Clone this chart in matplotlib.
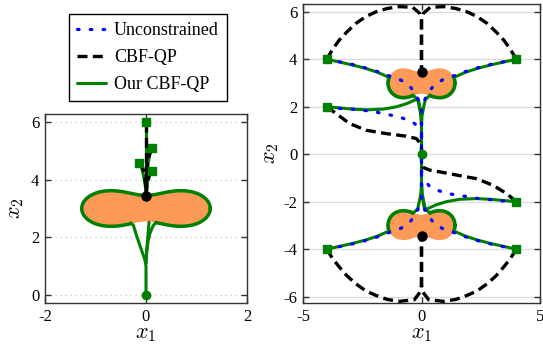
import numpy as np
import matplotlib
matplotlib.use('Agg')
import matplotlib.pyplot as plt
from matplotlib.lines import Line2D

plt.rcParams['font.family'] = ['Liberation Serif', 'DejaVu Serif']
plt.rcParams['mathtext.fontset'] = 'cm'
plt.rcParams['axes.unicode_minus'] = False

GREEN = '#008000'
ORANGE = '#FD9A58'
BLUE = '#0000FF'
BLACK = '#000000'

# ---------------- data ----------------
legend_labels = ['Unconstrained', 'CBF-QP', 'Our CBF-QP']

left_xticks = [-2, 0, 2]
left_xticklabels = ['-2', '0', '2']
left_yticks = [0, 2, 4, 6]
left_yticklabels = ['0', '2', '4', '6']
right_xticks = [-5, 0, 5]
right_xticklabels = ['-5', '0', '5']
right_yticks = [-6, -4, -2, 0, 2, 4, 6]
right_yticklabels = ['-6', '-4', '-2', '0', '2', '4', '6']

# obstacle (Cassini-oval peanut): centre, x scale, y scale, k^2/c^2
left_obst = dict(cx=0.0, cy=3.0, sx=0.86, sy=1.04, q=1.189)
right_obst_top = dict(cx=0.0, cy=3.0, sx=0.955, sy=1.04, q=1.189)
right_obst_bot = dict(cx=0.0, cy=-3.0, sx=0.955, sy=1.04, q=1.189)

# ---- left panel ----
left_start_x = [0.0, 0.125, -0.13, 0.125]
left_start_y = [6.0, 5.09, 4.57, 4.29]
left_goal = (0.0, 0.0)
left_deadlock = (0.0, 3.45)

left_cbf = [
    ([0.0, 0.0, 0.0], [6.0, 4.8, 3.45]),
    ([0.125, 0.06, 0.025, 0.005, 0.0], [5.09, 4.85, 4.5, 4.0, 3.45]),
    ([-0.13, -0.07, -0.03, -0.005, 0.0], [4.57, 4.45, 4.2, 3.8, 3.45]),
    ([0.125, 0.06, 0.02, 0.0], [4.29, 4.15, 3.85, 3.45]),
]
left_our_top = [
    ([0.0, 0.0, 0.0], [6.0, 4.8, 3.5]),
    ([0.125, 0.08, 0.04, 0.015, 0.0], [5.09, 4.9, 4.55, 4.0, 3.5]),
    ([-0.13, -0.09, -0.05, -0.015, 0.0], [4.57, 4.42, 4.15, 3.8, 3.5]),
    ([0.125, 0.08, 0.035, 0.01, 0.0], [4.29, 4.18, 3.95, 3.7, 3.5]),
]
left_our_bottom = [
    ([-0.30, -0.25, -0.18, -0.09, -0.02, 0.0, 0.0], [2.5, 2.42, 2.02, 1.56, 1.21, 1.0, 0.0]),
    ([0.20, 0.14, 0.08, 0.04, 0.01, 0.0], [2.52, 2.40, 2.15, 1.85, 1.4, 1.1]),
    ([0.06, 0.05, 0.03, 0.01, 0.0], [2.52, 2.3, 1.9, 1.5, 1.1]),
]
# bottom gap (x range) of the left obstacle outline not followed by trajectories
left_outline_gap = (-0.30, 0.20)

# ---- right panel ----
right_start_x = [-4, 4, -4, 4, -4, 4]
right_start_y = [4, 4, 2, -2, -4, -4]
right_goal = (0.0, 0.0)
right_deadlock_x = [0.0, 0.0]
right_deadlock_y = [3.45, -3.45]

right_cbf = [
    ([-4, -3.75, -3.47, -3.15, -2.77, -2.35, -1.92, -1.45, -0.93, -0.37, -0.08, 0.0, 0.0],
     [4, 4.42, 4.81, 5.15, 5.51, 5.8, 6.0, 6.14, 6.22, 6.19, 5.94, 5.65, 3.45]),
    ([4, 3.75, 3.47, 3.15, 2.77, 2.35, 1.92, 1.45, 0.93, 0.37, 0.08, 0.0, 0.0],
     [4, 4.42, 4.81, 5.15, 5.51, 5.8, 6.0, 6.14, 6.22, 6.19, 5.94, 5.65, 3.45]),
    ([-4, -3.75, -3.47, -3.15, -2.77, -2.35, -1.92, -1.45, -0.93, -0.3, -0.06, 0.0, 0.0],
     [-4, -4.4, -4.75, -5.12, -5.46, -5.76, -5.95, -6.12, -6.2, -6.13, -5.81, -5.5, -3.45]),
    ([4, 3.75, 3.47, 3.15, 2.77, 2.35, 1.92, 1.45, 0.93, 0.3, 0.06, 0.0, 0.0],
     [-4, -4.4, -4.75, -5.12, -5.46, -5.76, -5.95, -6.12, -6.2, -6.13, -5.81, -5.5, -3.45]),
    ([-4, -3.61, -3.05, -2.34, -1.5, -0.65, -0.22, -0.04, 0.0],
     [2, 1.72, 1.30, 1.01, 0.87, 0.76, 0.66, 0.45, 0.24]),
    ([4, 3.59, 3.02, 2.32, 1.7, 0.97, 0.34, 0.05, 0.0],
     [-2, -1.66, -1.31, -1.03, -0.92, -0.78, -0.67, -0.55, -0.3]),
]

right_unc = [
    ([-4, -3.44, -2.91, -2.37, -1.85, -1.36, -0.86, -0.44, -0.16, 0.0, 0.0],
     [4, 3.89, 3.78, 3.64, 3.48, 3.3, 3.12, 2.8, 2.35, 1.9, 0.0]),
    ([4, 3.44, 2.91, 2.37, 1.85, 1.36, 0.86, 0.44, 0.16, 0.0, 0.0],
     [4, 3.89, 3.78, 3.64, 3.48, 3.3, 3.12, 2.8, 2.35, 1.9, 0.0]),
    ([-4, -3.44, -2.91, -2.37, -1.85, -1.36, -0.86, -0.44, -0.16, 0.0, 0.0],
     [-4, -3.89, -3.78, -3.64, -3.48, -3.3, -3.12, -2.8, -2.35, -1.9, 0.0]),
    ([4, 3.44, 2.91, 2.37, 1.85, 1.36, 0.86, 0.44, 0.16, 0.0, 0.0],
     [-4, -3.89, -3.78, -3.64, -3.48, -3.3, -3.12, -2.8, -2.35, -1.9, 0.0]),
    ([-4, -3.44, -2.91, -2.37, -1.85, -1.31, -0.79, -0.30, 0.0, 0.0],
     [2, 1.93, 1.90, 1.84, 1.76, 1.65, 1.52, 1.30, 1.0, 0.0]),
    ([4, 3.45, 2.88, 2.34, 1.82, 1.30, 0.76, 0.31, 0.0, 0.0],
     [-2, -1.97, -1.91, -1.86, -1.77, -1.69, -1.55, -1.32, -0.89, 0.0]),
]

right_our = [
    ([-4, -3.44, -2.91, -2.37, -1.85, -1.42], [4, 3.88, 3.76, 3.62, 3.45, 3.26]),
    ([4, 3.44, 2.91, 2.37, 1.85, 1.42], [4, 3.88, 3.76, 3.62, 3.45, 3.26]),
    ([-4, -3.44, -2.91, -2.37, -1.85, -1.42], [-4, -3.88, -3.76, -3.62, -3.45, -3.26]),
    ([4, 3.44, 2.91, 2.37, 1.85, 1.42], [-4, -3.88, -3.76, -3.62, -3.45, -3.26]),
    ([-4, -3.45, -2.9, -2.3, -1.61, -1.05, -0.6, -0.27, -0.13, -0.06, -0.02, 0.0],
     [2, 1.95, 1.9, 1.87, 1.9, 2.0, 2.14, 2.29, 2.3, 1.94, 1.6, 1.2]),
    ([4, 3.45, 2.9, 2.3, 1.61, 1.05, 0.6, 0.27, 0.13, 0.06, 0.02, 0.0],
     [-2, -1.95, -1.9, -1.87, -1.9, -2.0, -2.14, -2.29, -2.36, -1.94, -1.6, -1.2]),
    # spikes below / above the obstacles
    ([-0.37, -0.16, -0.08, -0.02, 0.0, 0.0], [2.5, 2.3, 1.93, 1.6, 1.2, 0.0]),
    ([0.37, 0.16, 0.08, 0.02, 0.0, 0.0], [2.5, 2.3, 1.93, 1.6, 1.2, 0.0]),
    ([-0.37, -0.16, -0.08, -0.02, 0.0, 0.0], [-2.5, -2.3, -1.93, -1.6, -1.2, 0.0]),
    ([0.37, 0.16, 0.08, 0.02, 0.0, 0.0], [-2.5, -2.3, -1.93, -1.6, -1.2, 0.0]),
]
# part of each right obstacle boundary followed by green trajectories:
# (side of the obstacle facing away from the goal is not followed)
right_outline_edge_dy = 0.25
right_outline_gap_x = 0.37


# ---------------- helpers ----------------
def peanut(o, n=600):
    th = np.linspace(0, 2 * np.pi, n)
    c2, k4 = 1.0, o['q'] ** 2
    r = np.sqrt(c2 * np.cos(2 * th) + np.sqrt(c2 ** 2 * np.cos(2 * th) ** 2 + k4 - c2 ** 2))
    return o['cx'] + o['sx'] * r * np.cos(th), o['cy'] + o['sy'] * r * np.sin(th)


DASH = dict(color=BLACK, lw=2.4, linestyle=(0, (3.0, 1.6)), zorder=4)
DOT = dict(color=BLUE, lw=2.3, linestyle=(0, (0.5, 3.5)), dash_capstyle='round', zorder=3)
SOLID = dict(color=GREEN, lw=2.2, solid_capstyle='round', solid_joinstyle='round', zorder=2)


def style_axes(ax, xt, xtl, yt, ytl):
    ax.set_xticks(xt)
    ax.set_xticklabels(xtl)
    ax.set_yticks(yt)
    ax.set_yticklabels(ytl)
    ax.tick_params(direction='in', top=True, right=True, length=4, width=1,
                   color='#333333', labelsize=12, pad=4)
    for s in ax.spines.values():
        s.set_color('#333333')
        s.set_linewidth(1.0)
    ax.set_xlabel(r'$x_1$', fontsize=16, labelpad=0)


fig = plt.figure(figsize=(5.43, 3.5), dpi=100)

# ---------------- left panel ----------------
axL = fig.add_axes([45 / 543, 1 - 303 / 350, 202 / 543, 189 / 350])
axL.set_xlim(-2, 2)
axL.set_ylim(-0.28, 6.28)
for yv in left_yticks:
    axL.axhline(yv, color='#c8c8c8', lw=0.9, linestyle=(0, (1, 3)), zorder=0)

px, py = peanut(left_obst)
axL.fill(px, py, color=ORANGE, lw=0, zorder=1)
gap = (py < left_obst['cy']) & (px > left_outline_gap[0]) & (px < left_outline_gap[1])
axL.plot(px, np.where(gap, np.nan, py), color=GREEN, lw=2.5,
         solid_capstyle='round', zorder=2)
for xs, ys in left_our_top + left_our_bottom:
    axL.plot(xs, ys, **SOLID)
for xs, ys in left_cbf:
    axL.plot(xs, ys, **DASH)
axL.plot(left_start_x, left_start_y, 's', color=GREEN, ms=5.5, zorder=5, ls='none')
axL.plot(*left_goal, 'o', color=GREEN, ms=6, zorder=5)
axL.plot(*left_deadlock, 'o', color=BLACK, ms=6.5, zorder=6)
style_axes(axL, left_xticks, left_xticklabels, left_yticks, left_yticklabels)
axL.set_ylabel(r'$x_2$', fontsize=16, labelpad=4)

# ---------------- right panel ----------------
axR = fig.add_axes([303 / 543, 1 - 303 / 350, 237 / 543, 299 / 350])
axR.set_xlim(-5, 5)
axR.set_ylim(-6.27, 6.33)
for yv in right_yticks:
    axR.axhline(yv, color='#dddddd', lw=1.0, zorder=0)

for o, sgn in ((right_obst_top, 1), (right_obst_bot, -1)):
    px, py = peanut(o)
    axR.fill(px, py, color=ORANGE, lw=0, zorder=1)
    rel = sgn * (py - o['cy'])
    keep = (rel < right_outline_edge_dy) & ~((rel < 0) & (np.abs(px) < right_outline_gap_x))
    axR.plot(px, np.where(keep, py, np.nan), color=GREEN, lw=2.6,
             solid_capstyle='round', zorder=2)
for xs, ys in right_our:
    axR.plot(xs, ys, **SOLID)
for xs, ys in right_unc:
    axR.plot(xs, ys, **DOT)
for xs, ys in right_cbf:
    axR.plot(xs, ys, **DASH)
axR.plot(right_start_x, right_start_y, 's', color=GREEN, ms=5.5, zorder=5, ls='none')
axR.plot(*right_goal, 'o', color=GREEN, ms=6, zorder=5)
axR.plot(right_deadlock_x, right_deadlock_y, 'o', color=BLACK, ms=6.5, zorder=6, ls='none')
style_axes(axR, right_xticks, right_xticklabels, right_yticks, right_yticklabels)
axR.set_ylabel(r'$x_2$', fontsize=16, labelpad=2)

# ---------------- legend ----------------
handles = [Line2D([], [], **{k: v for k, v in DOT.items() if k != 'zorder'}),
           Line2D([], [], **{k: v for k, v in DASH.items() if k != 'zorder'}),
           Line2D([], [], **{k: v for k, v in SOLID.items() if k != 'zorder'})]
leg = fig.legend(handles, legend_labels, loc='upper left',
                 bbox_to_anchor=(69 / 543, 1 - 14 / 350), frameon=True, fancybox=False,
                 edgecolor='black', framealpha=1, fontsize=13, handlelength=1.6,
                 handletextpad=0.45, borderpad=0.45, labelspacing=0.55, borderaxespad=0)
leg.get_frame().set_linewidth(1.0)

fig.savefig('out.png', dpi=100)
